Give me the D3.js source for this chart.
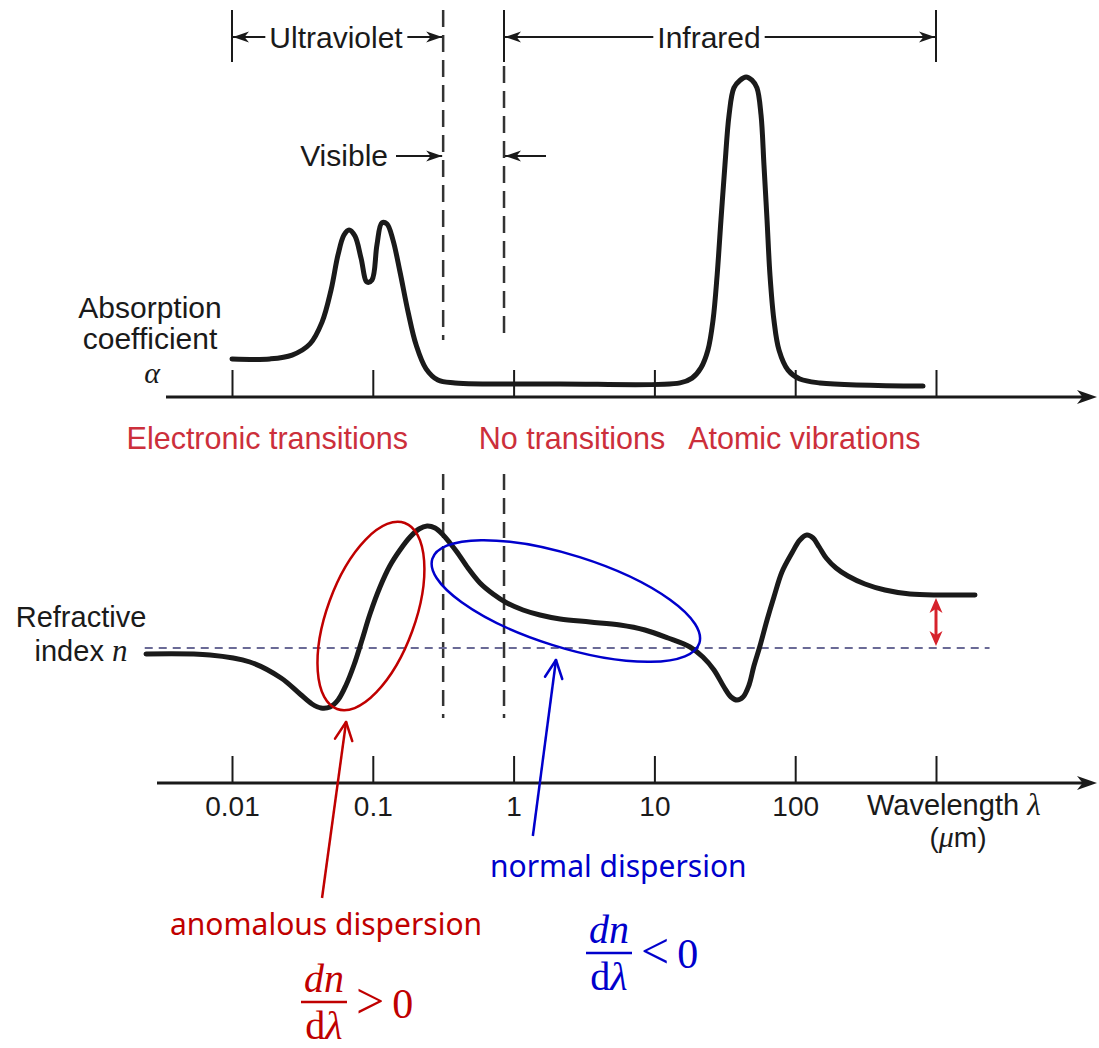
<!DOCTYPE html>
<html lang="en">
<head>
<meta charset="utf-8">
<script src="https://cdnjs.cloudflare.com/ajax/libs/d3/7.8.5/d3.min.js"></script>
<style>
html, body {
  margin: 0;
  background: #fff;
}
svg {
  display: block;
  font-family: 'Liberation Sans', Arial, sans-serif;
}
.note {
  font-family: 'Noto Sans', sans-serif;
}
.math {
  font-family: 'Liberation Serif', 'DejaVu Serif', serif;
}
</style>
</head>
<body>
<svg width="1099" height="1048"></svg>
<script>
// wavelength ticks (um)
const tickValues = [0.01, 0.1, 1, 10, 100, 1000];
const tickLabels = ['0.01', '0.1', '1', '10', '100', ''];

// band edges: ultraviolet/visible and visible/infrared
const uvEdge = 0.316;
const irEdge = 0.855;

// absorption coefficient (relative) vs wavelength
const absWavelength = [0.01, 0.0186, 0.0267, 0.0358, 0.0436, 0.0505, 0.0566, 0.0624, 0.0678, 0.0747,
  0.0825, 0.091, 0.0987, 0.107, 0.116, 0.126, 0.139, 0.156, 0.178, 0.203,
  0.239, 0.29, 0.384, 2.14, 15.2, 18.5, 21.4, 24.0, 26.1, 27.9,
  29.7, 31.7, 33.9, 36.7, 40.6, 44.8, 49.3, 53.5, 57.2, 60.0,
  63.1, 66.2, 70.6, 76.7, 88.9, 108, 150, 809];
const absCoeff = [0.119, 0.119, 0.131, 0.166, 0.234, 0.334, 0.444, 0.506, 0.522, 0.503,
  0.434, 0.359, 0.366, 0.475, 0.544, 0.541, 0.491, 0.391, 0.266, 0.163,
  0.088, 0.053, 0.044, 0.041, 0.044, 0.059, 0.091, 0.147, 0.241, 0.381,
  0.553, 0.725, 0.881, 0.966, 0.99, 1.0, 0.99, 0.966, 0.881, 0.725,
  0.553, 0.381, 0.241, 0.147, 0.084, 0.056, 0.044, 0.034];

// refractive index (relative to the dashed level) vs wavelength
const nWavelength = [0.00245, 0.00698, 0.0134, 0.0223, 0.0304, 0.037, 0.0429, 0.0497, 0.0566, 0.0646,
  0.0735, 0.0838, 0.0955, 0.1125, 0.132, 0.156, 0.184, 0.213, 0.243, 0.277,
  0.316, 0.353, 0.396, 0.474, 0.577, 0.715, 0.897, 1.167, 1.54, 2.14,
  3.49, 5.7, 8.57, 12.5, 17.9, 22.1, 26.5, 31.2, 35.0, 38.6,
  42.6, 47.0, 50.9, 56.2, 63.1, 70.6, 80.5, 94.8, 108, 121,
  134, 148, 166, 195, 237, 313, 434, 653, 1067, 1892];
const nIndex = [-0.06, -0.07, -0.14, -0.30, -0.46, -0.56, -0.60, -0.59, -0.52, -0.37,
  -0.17, 0.08, 0.34, 0.61, 0.82, 0.98, 1.11, 1.19, 1.22, 1.20,
  1.13, 1.05, 0.96, 0.80, 0.65, 0.54, 0.45, 0.38, 0.33, 0.29,
  0.26, 0.23, 0.18, 0.10, 0.01, -0.09, -0.22, -0.39, -0.49, -0.52,
  -0.49, -0.37, -0.18, 0.02, 0.28, 0.51, 0.76, 0.95, 1.08, 1.13,
  1.10, 1.01, 0.90, 0.80, 0.72, 0.64, 0.58, 0.54, 0.53, 0.53];
const nRefExtent = [0.0024, 2400];

const regionLabels = ['Electronic transitions', 'No transitions', 'Atomic vibrations'];
const regionLabelAt = [0.0178, 2.6, 116];

const svg = d3.select('svg');
svg.append('rect').attr('width', 1099).attr('height', 1048).attr('fill', '#fff');

const x = d3.scaleLog().domain([0.01, 1000]).range([232, 936]);
const yA = d3.scaleLinear().domain([0, 1]).range([397, 77]);
const yN = d3.scaleLinear().domain([0, 1]).range([648, 548]);

const ink = '#1a1a1a';
const labelRed = '#cc2f3b';
const annRed = '#c00000';
const annBlue = '#0000cc';

// filled notched arrow head pointing along (dx, dy)
const arrowHead = (tipX, tipY, dx, dy, len, hw, color) => {
  const m = Math.hypot(dx, dy);
  const ux = dx / m, uy = dy / m;
  const bx = tipX - ux * len, by = tipY - uy * len;
  const nx = tipX - ux * len * 0.72, ny = tipY - uy * len * 0.72;
  svg.append('path')
    .attr('d', `M${tipX},${tipY}L${bx - uy * hw},${by + ux * hw}L${nx},${ny}L${bx + uy * hw},${by - ux * hw}Z`)
    .attr('fill', color);
};

const hArrow = (from, to, y) => {
  svg.append('line')
    .attr('x1', from).attr('x2', to).attr('y1', y).attr('y2', y)
    .attr('stroke', ink).attr('stroke-width', 1.8);
  arrowHead(to, y, to - from, 0, 16, 5.5, ink);
};

// open V arrow used by the coloured annotations
const openArrow = (x1, y1, x2, y2, color) => {
  svg.append('line')
    .attr('x1', x1).attr('y1', y1).attr('x2', x2).attr('y2', y2)
    .attr('stroke', color).attr('stroke-width', 2.5);
  const a = Math.atan2(y1 - y2, x1 - x2);
  [-0.45, 0.45].forEach(t => {
    svg.append('line')
      .attr('x1', x2).attr('y1', y2)
      .attr('x2', x2 + 20 * Math.cos(a + t)).attr('y2', y2 + 20 * Math.sin(a + t))
      .attr('stroke', color).attr('stroke-width', 2.5)
      .attr('stroke-linecap', 'round');
  });
};

// ---- band markers at the top ----
const dash = { stroke: '#333', width: 2.5, pattern: '17 8' };

svg.append('line')
  .attr('x1', x(uvEdge)).attr('x2', x(uvEdge)).attr('y1', 10).attr('y2', 340)
  .attr('stroke', dash.stroke).attr('stroke-width', dash.width).attr('stroke-dasharray', dash.pattern);
svg.append('line')
  .attr('x1', x(irEdge)).attr('x2', x(irEdge)).attr('y1', 66).attr('y2', 336)
  .attr('stroke', dash.stroke).attr('stroke-width', dash.width).attr('stroke-dasharray', dash.pattern);

[[x(0.01), 10, 62], [x(irEdge), 10, 62], [x(1000), 10, 62]].forEach(([bx, a, b]) => {
  svg.append('line')
    .attr('x1', bx).attr('x2', bx).attr('y1', a).attr('y2', b)
    .attr('stroke', ink).attr('stroke-width', 2);
});

// lower dashed band edges
[uvEdge, irEdge].forEach(w => {
  svg.append('line')
    .attr('x1', x(w)).attr('x2', x(w)).attr('y1', 474).attr('y2', 718)
    .attr('stroke', dash.stroke).attr('stroke-width', dash.width).attr('stroke-dasharray', '16 8');
});

const bandLabel = (txt, cx, left, right) => {
  const t = svg.append('text')
    .attr('x', cx).attr('y', 48)
    .attr('text-anchor', 'middle')
    .attr('font-size', 30)
    .attr('fill', ink)
    .text(txt);
  const bb = t.node().getBBox();
  hArrow(bb.x - 4, left + 1, 37);
  hArrow(bb.x + bb.width + 4, right - 1, 37);
};
bandLabel('Ultraviolet', 336, x(0.01), x(uvEdge));
bandLabel('Infrared', 709, x(irEdge), x(1000));

svg.append('text')
  .attr('x', 388).attr('y', 166)
  .attr('text-anchor', 'end')
  .attr('font-size', 30)
  .attr('fill', ink)
  .text('Visible');
hArrow(396, x(uvEdge) - 1, 156);
hArrow(546, x(irEdge) + 1, 156);

// ---- absorption panel ----
svg.append('g')
  .attr('transform', 'translate(0,397)')
  .call(d3.axisTop(x).tickValues(tickValues).tickSize(27).tickFormat(''))
  .call(g => g.select('.domain').remove())
  .call(g => g.selectAll('.tick line').attr('stroke', ink).attr('stroke-width', 2));

svg.append('line')
  .attr('x1', 166).attr('x2', 1090).attr('y1', 397).attr('y2', 397)
  .attr('stroke', ink).attr('stroke-width', 3);
arrowHead(1097, 397, 1, 0, 20, 7, ink);

const absLine = d3.line()
  .x(d => x(d[0]))
  .y(d => yA(d[1]))
  .curve(d3.curveCatmullRom.alpha(0.5));

svg.append('path')
  .datum(d3.zip(absWavelength, absCoeff))
  .attr('d', absLine)
  .attr('fill', 'none')
  .attr('stroke', ink)
  .attr('stroke-width', 5)
  .attr('stroke-linecap', 'round')
  .attr('stroke-linejoin', 'round');

svg.append('text')
  .attr('text-anchor', 'middle')
  .attr('font-size', 30)
  .attr('fill', ink)
  .selectAll('tspan')
  .data(['Absorption', 'coefficient'])
  .join('tspan')
  .attr('x', 150)
  .attr('y', (d, i) => 318 + i * 31)
  .text(d => d);

svg.append('text')
  .attr('class', 'math')
  .attr('x', 152).attr('y', 383)
  .attr('text-anchor', 'middle')
  .attr('font-size', 30)
  .attr('font-style', 'italic')
  .attr('fill', ink)
  .text('α');

svg.selectAll('.region')
  .data(regionLabels)
  .join('text')
  .classed('region', true)
  .attr('x', (d, i) => x(regionLabelAt[i]))
  .attr('y', 449)
  .attr('text-anchor', 'middle')
  .attr('font-size', 30.5)
  .attr('fill', labelRed)
  .text(d => d);

// ---- refractive index panel ----
svg.append('line')
  .attr('x1', x(nRefExtent[0])).attr('x2', x(nRefExtent[1]))
  .attr('y1', yN(0)).attr('y2', yN(0))
  .attr('stroke', '#6a6a96')
  .attr('stroke-width', 2)
  .attr('stroke-dasharray', '8 6');

const nLine = d3.line()
  .x(d => x(d[0]))
  .y(d => yN(d[1]))
  .curve(d3.curveCatmullRom.alpha(0.5));

svg.append('path')
  .datum(d3.zip(nWavelength, nIndex))
  .attr('d', nLine)
  .attr('fill', 'none')
  .attr('stroke', ink)
  .attr('stroke-width', 5)
  .attr('stroke-linecap', 'round')
  .attr('stroke-linejoin', 'round');

// index step between long-wavelength limit and reference level
const nEnd = nIndex[nIndex.length - 1];
svg.append('line')
  .attr('x1', x(1000)).attr('x2', x(1000))
  .attr('y1', yN(nEnd) + 12).attr('y2', yN(0) - 12)
  .attr('stroke', '#d6222c').attr('stroke-width', 3);
arrowHead(x(1000), yN(nEnd) + 3, 0, -1, 15, 6.5, '#d6222c');
arrowHead(x(1000), yN(0) - 2, 0, 1, 15, 6.5, '#d6222c');

svg.append('text')
  .attr('text-anchor', 'middle')
  .attr('font-size', 29)
  .attr('fill', ink)
  .call(t => t.append('tspan').attr('x', 81).attr('y', 627).text('Refractive'))
  .call(t => {
    const s = t.append('tspan').attr('x', 81).attr('y', 661).text('index ');
    s.append('tspan').attr('class', 'math').attr('font-style', 'italic').attr('font-size', 31).text('n');
  });

svg.append('g')
  .attr('transform', 'translate(0,783)')
  .call(d3.axisBottom(x)
    .tickValues(tickValues)
    .tickSizeInner(-27)
    .tickSizeOuter(0)
    .tickPadding(13)
    .tickFormat((d, i) => tickLabels[i]))
  .call(g => g.select('.domain').remove())
  .call(g => g.selectAll('.tick line').attr('stroke', ink).attr('stroke-width', 2))
  .call(g => g.selectAll('.tick text')
    .attr('font-family', "'Liberation Sans', Arial, sans-serif")
    .attr('font-size', 28)
    .attr('fill', ink));

svg.append('line')
  .attr('x1', 157).attr('x2', 1090).attr('y1', 783).attr('y2', 783)
  .attr('stroke', ink).attr('stroke-width', 3);
arrowHead(1097, 783, 1, 0, 20, 7, ink);

svg.append('text')
  .attr('x', 867).attr('y', 815)
  .attr('font-size', 29)
  .attr('fill', ink)
  .call(t => t.append('tspan').text('Wavelength '))
  .call(t => t.append('tspan').attr('class', 'math').attr('font-style', 'italic').attr('font-size', 31).text('λ'));
svg.append('text')
  .attr('x', 958).attr('y', 847)
  .attr('text-anchor', 'middle')
  .attr('font-size', 28)
  .attr('fill', ink)
  .call(t => t.append('tspan').text('('))
  .call(t => t.append('tspan').attr('class', 'math').attr('font-style', 'italic').attr('font-size', 30).text('μ'))
  .call(t => t.append('tspan').text('m)'));

// ---- dispersion annotations ----
svg.append('ellipse')
  .attr('cx', x(0.097)).attr('cy', yN(0.32))
  .attr('rx', 44).attr('ry', 99)
  .attr('transform', `rotate(20, ${x(0.097)}, ${yN(0.32)})`)
  .attr('fill', 'none')
  .attr('stroke', annRed)
  .attr('stroke-width', 2.5);

svg.append('ellipse')
  .attr('cx', x(2.35)).attr('cy', yN(0.47))
  .attr('rx', 140).attr('ry', 46)
  .attr('transform', `rotate(17.5, ${x(2.35)}, ${yN(0.47)})`)
  .attr('fill', 'none')
  .attr('stroke', annBlue)
  .attr('stroke-width', 2.5);

openArrow(x(0.0436), 898, x(0.0646), yN(-0.74), annRed);
openArrow(x(1.37), 836, x(2.0), yN(-0.12), annBlue);

svg.append('text')
  .attr('class', 'note')
  .attr('x', 490).attr('y', 877)
  .attr('font-size', 30)
  .attr('fill', annBlue)
  .text('normal dispersion');

svg.append('text')
  .attr('class', 'note')
  .attr('x', 170).attr('y', 935)
  .attr('font-size', 30)
  .attr('fill', annRed)
  .text('anomalous dispersion');

const fraction = (cx, baseTop, barY, baseBot, relX, relY, rel, color) => {
  svg.append('text')
    .attr('class', 'math')
    .attr('x', cx).attr('y', baseTop)
    .attr('text-anchor', 'middle')
    .attr('font-size', 40)
    .attr('font-style', 'italic')
    .attr('fill', color)
    .text('dn');
  svg.append('line')
    .attr('x1', cx - 23).attr('x2', cx + 23)
    .attr('y1', barY).attr('y2', barY)
    .attr('stroke', color).attr('stroke-width', 2.5);
  svg.append('text')
    .attr('class', 'math')
    .attr('x', cx).attr('y', baseBot)
    .attr('text-anchor', 'middle')
    .attr('font-size', 40)
    .attr('fill', color)
    .call(t => t.append('tspan').text('d'))
    .call(t => t.append('tspan').attr('font-style', 'italic').text('λ'));
  svg.append('text')
    .attr('class', 'math')
    .attr('x', relX).attr('y', relY)
    .attr('fill', color)
    .call(t => t.append('tspan').attr('font-size', 50).text(rel[0]))
    .call(t => t.append('tspan').attr('dx', 8).attr('font-size', 42).text(rel[1]));
};
fraction(324, 992, 1002, 1039, 356, 1018, ['>', '0'], annRed);
fraction(609, 943, 953, 990, 641, 968, ['<', '0'], annBlue);
</script>
</body>
</html>
